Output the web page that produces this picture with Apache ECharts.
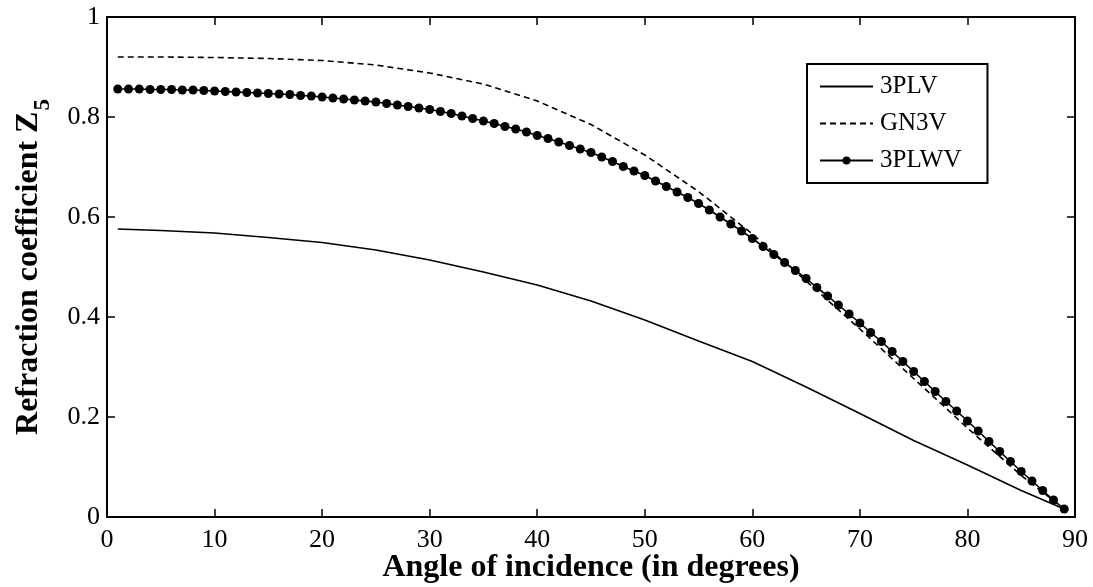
<!DOCTYPE html>
<html>
<head>
<meta charset="utf-8">
<script src="https://cdn.jsdelivr.net/npm/echarts@6/dist/echarts.min.js"></script>
<style>html,body{margin:0;padding:0;background:#fff}#c{width:1093px;height:587px}</style>
</head>
<body>
<div id="c"></div>
<script>
// Angles for the line series (degrees)
const anglesLine = [1, 5, 10, 15, 20, 25, 30, 35, 40, 45, 50, 55, 60, 65, 70, 75, 80, 85, 89];
const v3PLV = [0.576, 0.573, 0.568, 0.559, 0.549, 0.534, 0.514, 0.490, 0.464, 0.432, 0.394, 0.352, 0.311, 0.260, 0.207, 0.153, 0.104, 0.053, 0.016];
const vGN3V = [0.920, 0.920, 0.919, 0.917, 0.913, 0.904, 0.888, 0.866, 0.832, 0.785, 0.724, 0.651, 0.566, 0.472, 0.376, 0.277, 0.178, 0.083, 0.016];
// 3PLWV markers at every degree 1..89
const anglesMarked = [1,2,3,4,5,6,7,8,9,10,11,12,13,14,15,16,17,18,19,20,21,22,23,24,25,26,27,28,29,30,31,32,33,34,35,36,37,38,39,40,41,42,43,44,45,46,47,48,49,50,51,52,53,54,55,56,57,58,59,60,61,62,63,64,65,66,67,68,69,70,71,72,73,74,75,76,77,78,79,80,81,82,83,84,85,86,87,88,89];
const v3PLWV = [0.856,0.856,0.856,0.855,0.855,0.855,0.854,0.854,0.853,0.852,
  0.851,0.850,0.849,0.848,0.847,0.846,0.845,0.843,0.842,0.840,
  0.838,0.836,0.834,0.832,0.830,0.827,0.824,0.821,0.818,0.815,
  0.811,0.807,0.802,0.797,0.792,0.787,0.781,0.776,0.770,0.763,
  0.757,0.750,0.743,0.736,0.729,0.720,0.711,0.701,0.692,0.683,
  0.672,0.661,0.650,0.639,0.627,0.614,0.600,0.586,0.572,0.557,
  0.541,0.525,0.509,0.493,0.477,0.459,0.442,0.424,0.406,0.388,
  0.369,0.351,0.331,0.311,0.291,0.271,0.251,0.231,0.212,0.192,
  0.172,0.151,0.131,0.111,0.091,0.072,0.053,0.034,0.016];
const xTicks = [0,10,20,30,40,50,60,70,80,90];
const yTicks = [0,0.2,0.4,0.6,0.8,1];

const pair = (xs, ys) => xs.map((x, i) => [x, ys[i]]);
const FONT = '"Liberation Serif", "DejaVu Serif", serif';

const chart = echarts.init(document.getElementById('c'), null, {renderer: 'canvas'});
const axisCommon = {
  axisLine: {show: true, onZero: false, lineStyle: {color: '#000', width: 2}},
  axisTick: {show: true, inside: true, length: 8, lineStyle: {color: '#000', width: 1.5}},
  splitLine: {show: false}
};
chart.setOption({
  animation: false,
  backgroundColor: '#fff',
  textStyle: {fontFamily: FONT, color: '#000'},
  grid: {left: 107, right: 18, top: 17, bottom: 70, containLabel: false, outerBoundsMode: 'none'},
  legend: {
    orient: 'vertical',
    left: 807, top: 64,
    padding: [10, 26, 10, 12],
    itemGap: 12,
    itemWidth: 53, itemHeight: 10,
    borderColor: '#000', borderWidth: 2, borderRadius: 0,
    backgroundColor: '#fff',
    textStyle: {fontFamily: FONT, fontSize: 25, color: '#000', padding: [0, 0, 0, 2]},
    data: [
      {name: '3PLV', itemStyle: {opacity: 0}},
      {name: 'GN3V', itemStyle: {opacity: 0}},
      {name: '3PLWV'}
    ]
  },
  xAxis: [
    Object.assign({}, axisCommon, {
      type: 'value', min: xTicks[0], max: xTicks[xTicks.length-1], interval: 10,
      position: 'bottom',
      axisLabel: {fontFamily: FONT, fontSize: 26, color: '#000', margin: 10},
      name: 'Angle of incidence (in degrees)', nameLocation: 'middle', nameGap: 35,
      nameMoveOverlap: false,
      nameTextStyle: {fontFamily: FONT, fontSize: 32, fontWeight: 'bold', color: '#000'}
    }),
    Object.assign({}, axisCommon, {
      type: 'value', min: 0, max: 90, interval: 10, position: 'top', axisLabel: {show: false}
    })
  ],
  yAxis: [
    Object.assign({}, axisCommon, {
      type: 'value', min: yTicks[0], max: yTicks[yTicks.length-1], interval: 0.2,
      position: 'left',
      axisLabel: {fontFamily: FONT, fontSize: 26, color: '#000', margin: 7,
        formatter: v => String(Math.round(v*10)/10)},
      name: '{a|Refraction coefficient Z}{s|5}', nameLocation: 'middle', nameGap: 62,
      nameMoveOverlap: false,
      nameTextStyle: {
        fontFamily: FONT, fontSize: 32, fontWeight: 'bold', color: '#000',
        rich: {
          a: {fontFamily: FONT, fontSize: 32, fontWeight: 'bold', color: '#000', verticalAlign: 'bottom', lineHeight: 36},
          s: {fontFamily: FONT, fontSize: 23, fontWeight: 'bold', color: '#000', verticalAlign: 'bottom', lineHeight: 36, padding: [0,0,-10,1]}
        }
      }
    }),
    Object.assign({}, axisCommon, {
      type: 'value', min: 0, max: 1, interval: 0.2, position: 'right', axisLabel: {show: false}
    })
  ],
  series: [
    {
      name: '3PLV', type: 'line', data: pair(anglesLine, v3PLV),
      symbol: 'none', lineStyle: {color: '#000', width: 1.6, type: 'solid'}, itemStyle: {color: '#000'}
    },
    {
      name: 'GN3V', type: 'line', data: pair(anglesLine, vGN3V),
      symbol: 'none', lineStyle: {color: '#000', width: 1.6, type: [6, 4]}, itemStyle: {color: '#000'}
    },
    {
      name: '3PLWV', type: 'line', data: pair(anglesMarked, v3PLWV),
      symbol: 'circle', symbolSize: 9, showSymbol: true,
      lineStyle: {color: '#000', width: 1.6}, itemStyle: {color: '#000', borderWidth: 0}
    }
  ]
});
</script>
</body>
</html>
